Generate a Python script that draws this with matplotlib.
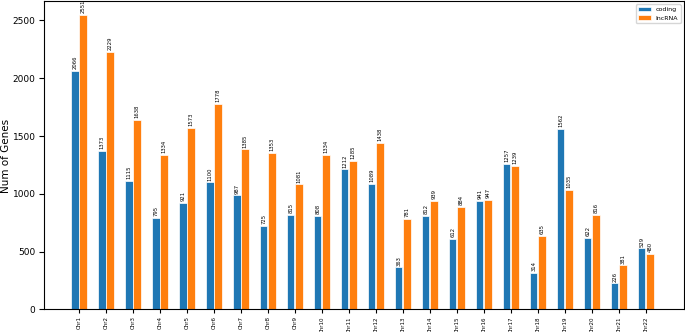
import matplotlib.pyplot as plt
import numpy as np

chroms = ['Chr' + str(i) for i in range(1, 23)]
coding = [2066, 1373, 1115, 795, 921, 1100, 987, 725, 815, 808, 1212,
          1089, 363, 812, 612, 941, 1257, 314, 1562, 622, 226, 529]
lncrna = [2551, 2229, 1638, 1334, 1573, 1778, 1385, 1353, 1081, 1334, 1285,
          1438, 781, 939, 884, 947, 1239, 635, 1035, 816, 381, 480]

x = np.arange(len(chroms))
w = 0.27

fig = plt.figure(figsize=(6.85, 3.32), dpi=100)
ax = fig.add_axes([0.064, 0.068, 0.934, 0.928])

b1 = ax.bar(x - 0.15, coding, w, color='#1f77b4', edgecolor='white', linewidth=0.5, label='coding')
b2 = ax.bar(x + 0.15, lncrna, w, color='#ff7f0e', edgecolor='white', linewidth=0.5, label='lncRNA')

for bars in (b1, b2):
    for b in bars:
        ax.text(b.get_x() + b.get_width() / 2, b.get_height() + 15, str(int(b.get_height())),
                ha='center', va='bottom', rotation=90, fontsize=3.8)

ax.set_xticks(x)
ax.set_xticklabels(chroms, rotation=90, fontsize=4)
ax.tick_params(axis='x', pad=2, length=3)
ax.tick_params(axis='y', labelsize=6.5, pad=2.5)
fig.text(0.002, 0.53, 'Num of Genes', fontsize=7.5, rotation=90, ha='left', va='center')
ax.set_xlim(-1.3, 22.4)
ax.set_ylim(0, 2665)
ax.legend(loc='upper right', fontsize=4.5)

plt.savefig('out.png', dpi=100)
